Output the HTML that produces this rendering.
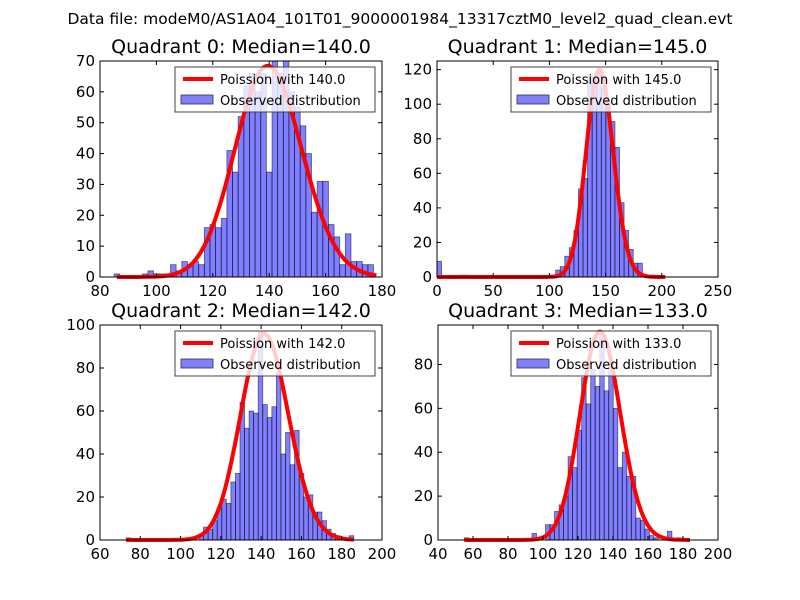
<!DOCTYPE html>
<html><head><meta charset="utf-8"><style>
body{margin:0;background:#fff}
svg{display:block;font-family:"DejaVu Sans","Liberation Sans",sans-serif}
</style></head><body>
<svg id="c" width="800" height="600" viewBox="0 0 800 600">
<rect width="800" height="600" fill="#fff"/>
<text x="400" y="24" text-anchor="middle" font-size="15.5">Data file: modeM0/AS1A04_101T01_9000001984_13317cztM0_level2_quad_clean.evt</text>
</svg>
<script>
// Quadrant 0
const q0Start = 85, q0Width = 2;
const q0Counts = [1,0,0,0,0,1,2,1,1,1,4,2,5,4,5,4,16,17,16,19,41,34,52,62,66,60,66,34,70,66,70,60,55,49,40,21,31,31,17,13,4,14,5,5,4,4];
const q0Lambda = 140, q0Scale = 2030, q0Range = [86,178];
// Quadrant 1
const q1Start = 0, q1Width = 4.06;
const q1Counts = [9,0,0,0,0,1,1,0,0,0,0,0,0,0,0,0,0,0,0,0,0,0,0,0,0,1,4,6,12,17,27,51,57,116,116,120,110,100,90,75,43,27,16,8,8];
const q1Lambda = 145, q1Scale = 3620, q1Range = [0,203];
// Quadrant 2
const q2Start = 73, q2Width = 2.26;
const q2Counts = [1,0,0,0,0,0,0,0,0,0,0,0,0,0,0,0,2,6,5,9,15,19,17,27,31,64,52,60,59,97,63,57,62,78,40,50,35,51,31,20,21,13,13,9,5,3,2,1,0,2];
const q2Lambda = 142, q2Scale = 2866, q2Range = [73,186];
// Quadrant 3
const q3Start = 55, q3Width = 2.58;
const q3Counts = [1,0,0,0,0,0,0,0,0,0,0,0,0,0,0,3,0,0,7,7,13,16,20,38,33,50,74,62,78,70,95,68,78,60,33,40,29,29,10,9,5,2,1,0,1,4,0,1,0,0];
const q3Lambda = 133, q3Scale = 2746, q3Range = [55,184];

const xTicks0=[80,100,120,140,160,180], yTicks0=[0,10,20,30,40,50,60,70];
const xTicks1=[0,50,100,150,200,250], yTicks1=[0,20,40,60,80,100,120];
const xTicks2=[60,80,100,120,140,160,180,200], yTicks2=[0,20,40,60,80,100];
const xTicks3=[40,60,80,100,120,140,160,180,200], yTicks3=[0,20,40,60,80];

const svg=document.getElementById('c');
const NS='http://www.w3.org/2000/svg';
function mk(tag,attrs,parent){const e=document.createElementNS(NS,tag);for(const k in attrs)e.setAttribute(k,attrs[k]);(parent||svg).appendChild(e);return e;}
function lgamma(z){
  if(z<7){let p=1;while(z<7){p*=z;z+=1;}return lgamma(z)-Math.log(p);}
  return (z-0.5)*Math.log(z)-z+0.5*Math.log(2*Math.PI)+1/(12*z)-1/(360*z*z*z);
}
function pois(k,l){return Math.exp(k*Math.log(l)-l-lgamma(k+1));}

function panel(id,r,xd,yd,xt,yt,start,width,counts,lam,scale,range){
  const g=mk('g',{});
  
  
  const X=v=>r.x+(v-xd[0])/(xd[1]-xd[0])*r.w;
  const Y=v=>r.y+r.h-(v-yd[0])/(yd[1]-yd[0])*r.h;
  const t=mk('text',{x:r.x+r.w/2,y:r.y-8,'text-anchor':'middle','font-size':19},g);
  t.textContent='Quadrant '+id+': Median='+lam.toFixed(1);
  
  
  counts.forEach((c,i)=>{
    if(c<=0)return;
    const x0=X(start+i*width),x1=X(start+(i+1)*width);
    const b=mk('rect',{x:x0,y:Y(c),width:x1-x0,height:Y(0)-Y(c),fill:'rgba(0,0,255,0.5)',stroke:'rgba(0,0,0,0.55)','stroke-width':0.8},g);
    
    
  });
  let d='';
  for(let k=range[0];k<=range[1];k++){d+=(d?'L':'M')+X(k).toFixed(1)+','+Y(pois(k,lam)*scale).toFixed(1);}
  const ln=mk('path',{d:d,fill:'none',stroke:'#f00','stroke-width':4,'stroke-linejoin':'round'},g);
  
  
  const fr=mk('rect',{x:r.x,y:r.y,width:r.w,height:r.h,fill:'none',stroke:'#000','stroke-width':1},g);
  
  
  xt.forEach(v=>{
    const x=X(v);
    mk('line',{x1:x,x2:x,y1:r.y+r.h,y2:r.y+r.h-4,stroke:'#000'},g);
    mk('line',{x1:x,x2:x,y1:r.y,y2:r.y+4,stroke:'#000'},g);
    const l=mk('text',{x:x,y:r.y+r.h+19,'text-anchor':'middle','font-size':15},g);
    l.textContent=v;
    
    
  });
  yt.forEach(v=>{
    const y=Y(v);
    mk('line',{x1:r.x,x2:r.x+4,y1:y,y2:y,stroke:'#000'},g);
    mk('line',{x1:r.x+r.w,x2:r.x+r.w-4,y1:y,y2:y,stroke:'#000'},g);
    const l=mk('text',{x:r.x-5,y:y+5,'text-anchor':'end','font-size':15},g);
    l.textContent=v;
    
    
  });
  const lx=r.x+r.w-207, ly=r.y+6;
  const lg=mk('g',{},g);
  
  
  mk('rect',{x:lx,y:ly,width:200,height:45,fill:'rgba(255,255,255,0.8)',stroke:'#444','stroke-width':1},lg);
  mk('line',{x1:lx+8,x2:lx+38,y1:ly+12,y2:ly+12,stroke:'#f00','stroke-width':4},lg);
  mk('rect',{x:lx+6,y:ly+28,width:32,height:9,fill:'rgba(0,0,255,0.5)',stroke:'#333','stroke-width':0.8},lg);
  const a=mk('text',{x:lx+45,y:ly+17,'font-size':13},lg);a.textContent='Poission with '+lam.toFixed(1);
  
  
  const b2=mk('text',{x:lx+45,y:ly+38,'font-size':13},lg);b2.textContent='Observed distribution';
  
  
}
panel(0,{x:100,y:61,w:282,h:216},[80,180],[0,70],xTicks0,yTicks0,q0Start,q0Width,q0Counts,q0Lambda,q0Scale,q0Range);
panel(1,{x:437,y:61,w:281,h:216},[0,250],[0,125],xTicks1,yTicks1,q1Start,q1Width,q1Counts,q1Lambda,q1Scale,q1Range);
panel(2,{x:100,y:325,w:282,h:215},[60,200],[0,100],xTicks2,yTicks2,q2Start,q2Width,q2Counts,q2Lambda,q2Scale,q2Range);
panel(3,{x:438,y:325,w:280,h:215},[40,200],[0,98],xTicks3,yTicks3,q3Start,q3Width,q3Counts,q3Lambda,q3Scale,q3Range);
</script>
</body></html>
